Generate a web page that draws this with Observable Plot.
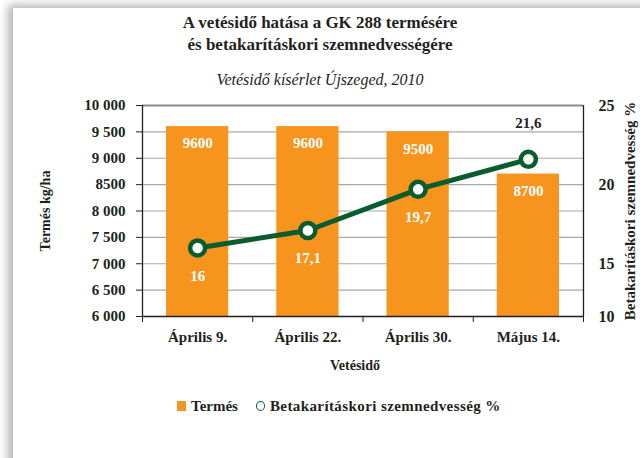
<!DOCTYPE html>
<html><head><meta charset="utf-8">
<script src="https://cdn.jsdelivr.net/npm/d3@7"></script>
<script src="https://cdn.jsdelivr.net/npm/@observablehq/plot@0.6"></script>
<style>
html,body{margin:0;padding:0;background:#fff;}
body{width:640px;height:458px;overflow:hidden;position:relative;font-family:"Liberation Serif","DejaVu Serif",serif;color:#231f20;}
#card{position:absolute;left:13px;top:8px;width:700px;height:520px;background:#fff;box-shadow:-5px -3px 9px rgba(0,0,0,0.30);}
#title{position:absolute;left:0;top:12px;width:640px;text-align:center;font-weight:bold;font-size:17px;line-height:22px;}
#subtitle{position:absolute;left:0;top:70px;width:640px;text-align:center;font-style:italic;font-size:16px;line-height:20px;}
#chart{position:absolute;left:0;top:95px;}
#chart svg, #chart svg text{font-family:"Liberation Serif","DejaVu Serif",serif !important;}
#legend{position:absolute;left:177px;top:398px;font-weight:bold;font-size:15px;line-height:16px;display:flex;align-items:center;white-space:nowrap;}
#legend .sw{display:inline-block;width:9px;height:10px;background:#f7941d;margin-right:5px;}
#legend .ci{display:inline-block;width:7px;height:8px;border:1.3px solid #0a5c2e;border-radius:50%;margin-left:18px;margin-right:5px;}
#legend .lt{letter-spacing:0.4px;}
</style></head>
<body>
<div id="card"></div>
<div id="title">A vetésidő hatása a GK 288 termésére<br>és betakarításkori szemnedvességére</div>
<div id="subtitle">Vetésidő kísérlet Újszeged, 2010</div>
<div id="chart"></div>
<div id="legend"><span class="sw"></span>Termés<span class="ci"></span><span class="lt">Betakarításkori szemnedvesség %</span></div>
<script>
const categories = ["Április 9.", "Április 22.", "Április 30.", "Május 14."];
const yieldValues = [9600, 9600, 9500, 8700];
const moisture = [16, 17.1, 19.7, 21.6];
const leftTicks = [6000, 6500, 7000, 7500, 8000, 8500, 9000, 9500, 10000];
const leftTickLabels = ["6 000", "6 500", "7 000", "7 500", "8 000", "8500", "9 000", "9 500", "10 000"];
const rightTicks = [10, 15, 20, 25];
const xTitle = "Vetésidő";
const yTitle = "Termés kg/ha";
const y2Title = "Betakarításkori szemnedvesség %";

const orange = "#f7941d", green = "#0a5c2e", ink = "#231f20";
// secondary axis: 25 % ↔ 10 000, 5 % per 1 500 kg/ha (as drawn in the original)
const toLeft = v => 10000 - (25 - v) * 300;
const comma = v => String(v).replace(".", ",");

const rows = categories.map((c, i) => ({i, c, y: yieldValues[i], m: moisture[i], my: toLeft(moisture[i])}));
const mid = d => d.i + 0.5;
const font = {fontFamily: "Liberation Serif", fontWeight: "bold"};

const chart = Plot.plot({
  width: 640, height: 290,
  marginLeft: 142, marginRight: 57, marginTop: 10, marginBottom: 69,
  x: {type: "linear", domain: [0, 4]},
  y: {domain: [6000, 10000]},
  style: {color: ink, background: "transparent", overflow: "visible"},
  marks: [
    Plot.gridY(leftTicks, {stroke: "#a8a8a8", strokeOpacity: 1, strokeWidth: 1.2}),
    Plot.ruleY([10000], {stroke: "#8a8a8a", strokeWidth: 1.8}),
    Plot.rectY(rows, {x1: "i", x2: d => d.i + 1, y1: 6000, y2: "y", fill: orange, insetLeft: 24, insetRight: 24}),
    Plot.ruleX([0, 4], {stroke: ink, strokeWidth: 1.3}),
    Plot.ruleY([6000], {stroke: ink, strokeWidth: 1.6}),
    Plot.axisY({ticks: leftTicks, tickFormat: d => leftTickLabels[leftTicks.indexOf(d)], tickSize: 6, tickPadding: 11, fontSize: 15, fontWeight: "bold", label: null}),
    Plot.axisX({ticks: [0, 1, 2, 3, 4], tickFormat: () => "", tickSize: 6, label: null}),
    Plot.text(rows, {x: mid, y: 6000, text: "c", dy: 21, fontSize: 15, ...font, fill: ink}),
    Plot.text(rows, {x: mid, y: "y", text: d => String(d.y), dy: 17, fontSize: 15, ...font, fill: "#fff"}),
    Plot.line(rows, {x: mid, y: "my", stroke: green, strokeWidth: 5}),
    Plot.dot(rows, {x: mid, y: "my", r: 7.5, fill: "#fff", stroke: green, strokeWidth: 4.5}),
    Plot.text(rows.filter(d => d.my < d.y), {x: mid, y: "my", text: d => comma(d.m), dy: 28, fontSize: 15, ...font, fill: "#fff"}),
    Plot.text(rows.filter(d => d.my >= d.y), {x: mid, y: "my", text: d => comma(d.m), dy: -36, fontSize: 15, ...font, fill: ink}),
    Plot.text(rightTicks, {x: 4, y: v => Math.max(6000, toLeft(v)), text: d => String(d), dx: 15, textAnchor: "start", fontSize: 16, ...font, fill: ink}),
    Plot.text([xTitle], {x: 2, y: 6000, dy: 49, dx: -8, textAnchor: "middle", lineAnchor: "middle", fontSize: 14, ...font, fill: ink}),
    Plot.text([yTitle], {x: 0, y: 8000, dx: -97, rotate: -90, textAnchor: "middle", lineAnchor: "middle", fontSize: 14, ...font, fill: ink}),
    Plot.text([y2Title], {x: 4, y: 8000, dx: 47, rotate: -90, textAnchor: "middle", lineAnchor: "middle", fontSize: 15, ...font, fill: ink})
  ]
});
document.getElementById("chart").appendChild(chart);
</script>
</body></html>
